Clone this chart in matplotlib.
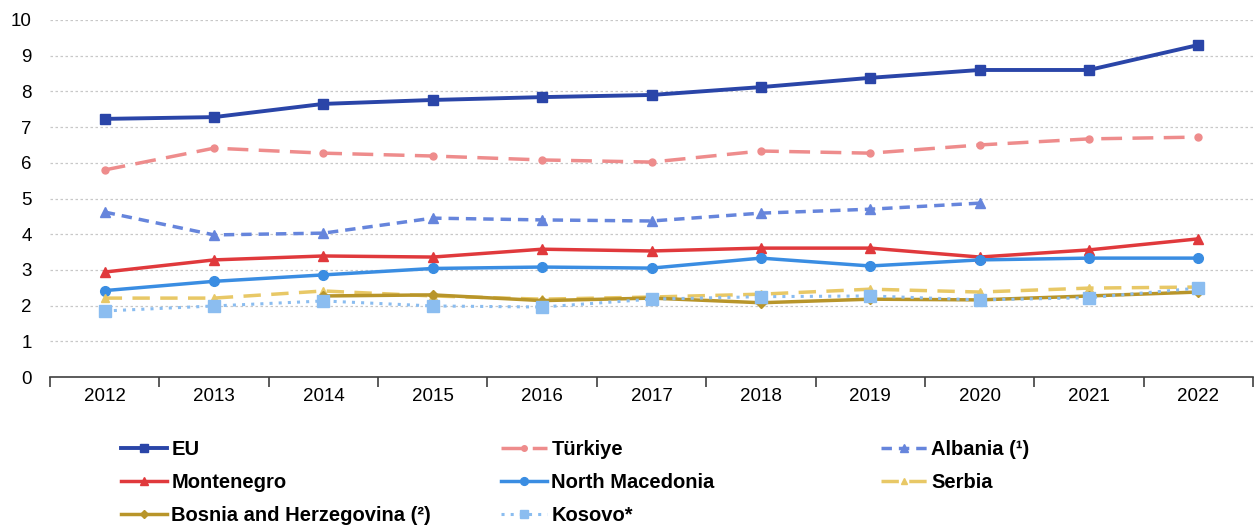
import matplotlib.pyplot as plt
from matplotlib.ticker import FixedLocator
import numpy as np

plt.rcParams['font.family'] = ['Liberation Sans', 'DejaVu Sans']

years = [2012, 2013, 2014, 2015, 2016, 2017, 2018, 2019, 2020, 2021, 2022]

eu = [7.23, 7.28, 7.65, 7.76, 7.84, 7.90, 8.12, 8.38, 8.60, 8.60, 9.30]
turkiye = [5.80, 6.41, 6.27, 6.19, 6.08, 6.02, 6.33, 6.27, 6.50, 6.67, 6.72]
albania = [4.62, 3.98, 4.03, 4.45, 4.40, 4.37, 4.59, 4.70, 4.87, np.nan, np.nan]
montenegro = [2.94, 3.28, 3.39, 3.36, 3.58, 3.53, 3.61, 3.61, 3.36, 3.56, 3.87]
north_macedonia = [2.42, 2.68, 2.86, 3.04, 3.08, 3.05, 3.33, 3.11, 3.28, 3.33, 3.33]
serbia = [2.21, 2.21, 2.41, 2.27, 2.18, 2.24, 2.32, 2.46, 2.38, 2.49, 2.52]
bosnia = [np.nan, np.nan, 2.27, 2.30, 2.14, 2.21, 2.08, 2.18, 2.16, 2.27, 2.38]
kosovo = [1.85, 1.99, 2.13, 1.99, 1.96, 2.18, 2.25, 2.27, 2.16, 2.22, 2.49]

x = np.arange(len(years))

fig = plt.figure(figsize=(12.56, 5.26), dpi=100)
ax = fig.add_axes([50 / 1256, 1 - 377 / 526, 1203 / 1256, 357 / 526])

l_eu, = ax.plot(x, eu, color='#2A45A8', lw=2.8, marker='s', ms=7, label='EU')
l_tr, = ax.plot(x, turkiye, color='#EE8C8C', lw=2.5, ls=(0, (6, 3)), marker='o', ms=5, label='Türkiye')
l_al, = ax.plot(x, albania, color='#6685DC', lw=2.5, ls=(0, (3, 2)), marker='^', ms=7, label='Albania (¹)')
l_me, = ax.plot(x, montenegro, color='#E0393C', lw=2.5, marker='^', ms=7, label='Montenegro')
l_mk, = ax.plot(x, north_macedonia, color='#3A8DE2', lw=2.5, marker='o', ms=7, label='North Macedonia')
l_rs, = ax.plot(x, serbia, color='#E8C866', lw=2.5, ls=(0, (5, 3)), marker='^', ms=6, label='Serbia')
l_ba, = ax.plot(x, bosnia, color='#B8952A', lw=2.5, marker='D', ms=5, label='Bosnia and Herzegovina (²)')
l_xk, = ax.plot(x, kosovo, color='#8BBDF0', lw=2.2, ls=(0, (1, 2)), marker='s', ms=8, label='Kosovo*')

ax.set_xlim(-0.5, len(years) - 0.5)
ax.set_ylim(0, 10)
ax.set_yticks(range(0, 11))
ax.set_xticks(x)
ax.set_xticklabels([str(y) for y in years])
ax.xaxis.set_minor_locator(FixedLocator(np.arange(-0.5, len(years), 1)))
ax.tick_params(axis='x', which='major', length=0, labelsize=13.5, pad=8)
ax.tick_params(axis='x', which='minor', length=7, width=1.2, color='#404040', direction='out')
ax.tick_params(axis='y', length=0, labelsize=13.5, pad=13)

ax.grid(axis='y', color='#C8C8C8', ls=(0, (2, 2)), lw=0.9)
ax.set_axisbelow(True)
for side in ['left', 'right', 'top']:
    ax.spines[side].set_visible(False)
ax.spines['bottom'].set_color('#404040')
ax.spines['bottom'].set_linewidth(1.2)

# legend in three columns, each placed on its own
columns = [[l_eu, l_me, l_ba], [l_tr, l_mk, l_xk], [l_al, l_rs]]
col_x = [113, 493, 873]
for handles, cx in zip(columns, col_x):
    leg = fig.legend(handles=handles, loc='upper left', bbox_to_anchor=(cx / 1256, 1 - 432 / 526),
                     frameon=False, handlelength=2.3, handletextpad=0.2, labelspacing=0.7,
                     borderaxespad=0, markerscale=0.8, prop={'weight': 'bold', 'size': 14.5})

fig.savefig('out.png', dpi=100)
